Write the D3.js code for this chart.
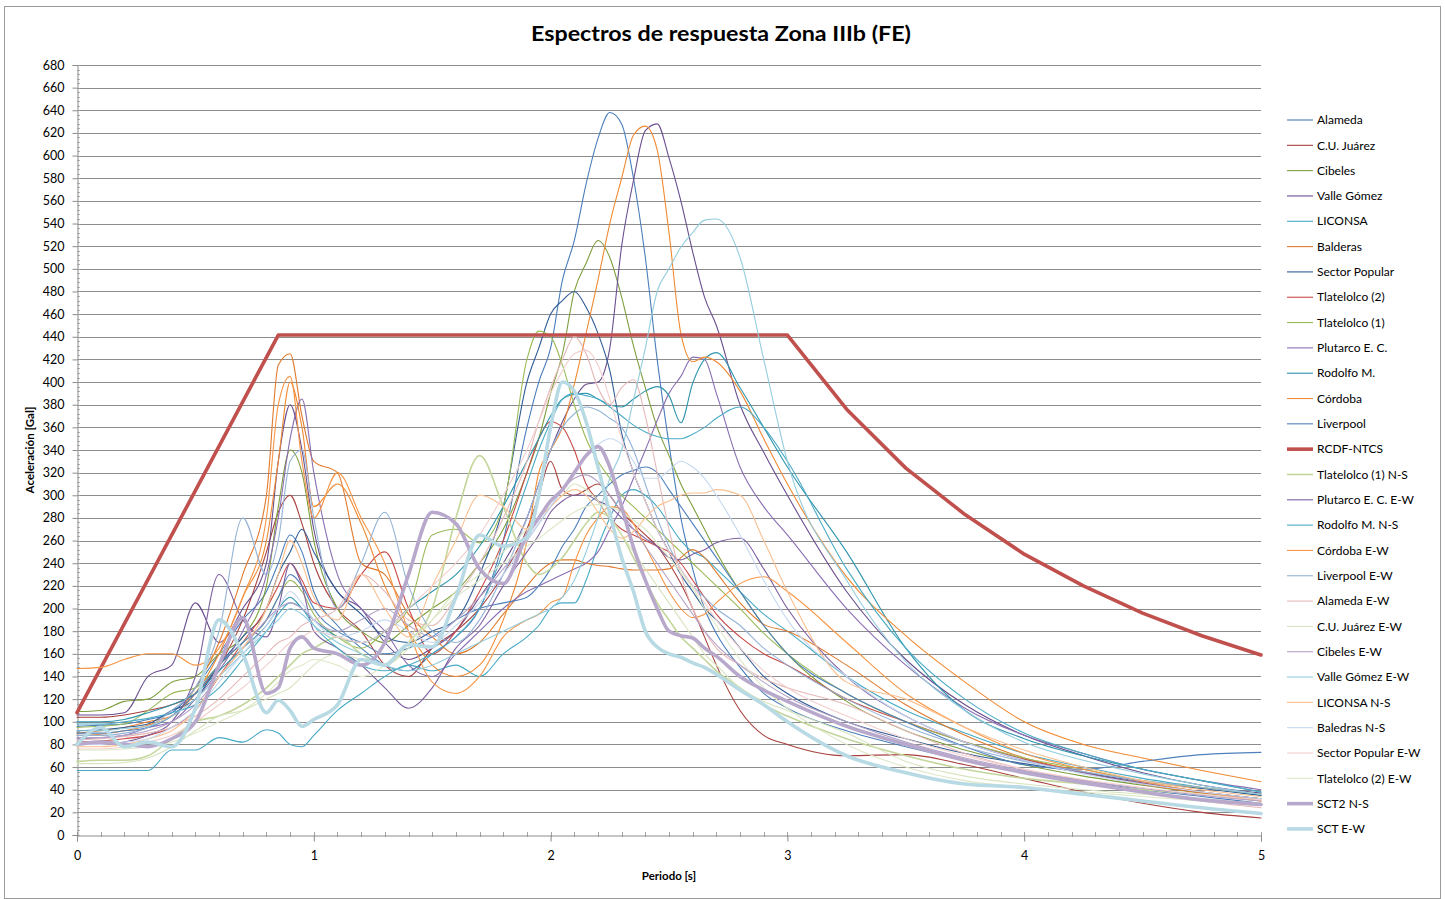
<!DOCTYPE html>
<html><head><meta charset="utf-8">
<script src="https://cdn.jsdelivr.net/npm/d3@7"></script>
<style>body{margin:0;background:#fff}svg{display:block}</style>
</head><body>
<svg id="c" width="1445" height="899"></svg>
<script>
// ---------- DATA ----------
const periods = [0,0.1,0.2,0.3,0.4,0.5,0.6,0.7,0.8,0.85,0.9,0.95,1.0,1.1,1.2,1.3,1.4,1.5,1.6,1.7,1.8,1.9,1.95,2.0,2.05,2.1,2.15,2.2,2.25,2.3,2.35,2.4,2.45,2.5,2.55,2.6,2.65,2.7,2.8,2.9,3.0,3.25,3.5,3.75,4.0,4.25,4.5,4.75,5.0];

const alameda = [96,97,98,102,108,130,160,190,215,240,265,250,215,185,165,150,145,160,175,200,260,360,400,430,490,525,575,615,638,628,580,510,420,345,280,235,200,178,148,125,112,92,78,66,56,48,40,34,28];
const cuJuarez = [104,104,106,110,115,125,150,190,250,285,300,275,240,200,180,150,140,165,180,200,230,270,300,330,305,300,305,310,300,285,275,265,255,240,222,200,175,150,110,88,80,70,71,62,50,38,28,20,15];
const cibeles = [109,110,118,120,135,140,160,175,220,290,340,320,260,200,180,170,185,200,215,240,270,320,350,390,425,480,505,525,510,475,432,395,360,335,310,290,270,250,215,185,160,118,92,75,62,52,44,37,32];
const valleGomez = [106,106,108,140,150,205,170,200,240,330,380,340,270,215,200,170,155,165,180,210,240,280,310,340,365,385,398,400,430,520,578,622,628,598,560,515,475,450,380,338,300,215,155,115,88,70,55,44,37];
const liconsa = [57,57,57,57,75,75,86,82,93,90,80,78,88,110,125,140,150,145,150,140,160,175,185,200,205,205,225,255,280,300,305,300,290,275,260,250,245,235,215,195,180,140,110,90,72,60,50,42,35];
const balderas = [90,92,95,100,105,130,170,230,300,415,425,370,330,320,240,230,195,175,160,170,195,220,232,240,243,243,240,238,237,235,234,234,234,235,245,252,245,232,205,186,180,150,115,88,68,56,45,37,30];
const sectorPopular = [92,93,95,98,110,120,150,175,200,230,250,270,250,215,195,175,170,180,190,230,290,400,430,460,472,480,466,443,410,355,320,295,270,250,230,215,200,190,165,140,125,100,85,72,63,55,47,41,35];
const tlatelolco2 = [82,83,85,88,95,110,140,170,200,220,240,225,205,200,230,250,200,160,180,215,260,320,350,365,360,340,310,295,280,270,265,260,255,250,240,225,210,195,175,160,150,120,100,82,67,55,45,38,32];
const tlatelolco1 = [95,96,98,110,125,130,150,170,190,210,225,215,195,175,165,180,200,265,270,258,290,420,445,440,415,380,350,330,315,300,290,280,270,260,250,240,230,220,200,178,160,125,100,82,68,58,48,42,36];
const plutarco = [85,86,88,95,100,120,145,180,230,280,350,385,320,230,200,180,150,140,160,180,200,215,220,225,230,235,240,250,270,290,315,340,366,390,405,422,420,390,325,290,265,200,150,112,88,72,58,48,40];
const rodolfo = [100,100,102,108,115,125,145,165,185,200,210,200,190,175,170,180,200,215,230,255,290,330,350,370,385,389,390,385,380,378,385,392,396,388,364,399,420,426,395,360,325,250,165,110,85,70,58,48,38];
const cordoba = [88,89,92,97,105,125,160,210,260,330,400,360,290,310,275,220,180,150,140,150,190,260,320,340,360,398,443,490,540,580,618,626,605,532,443,418,422,418,392,350,310,228,176,135,100,80,68,57,47];
const liverpool = [90,90,92,95,105,125,150,170,190,210,230,220,200,180,170,160,165,175,190,200,205,210,220,235,255,270,290,300,310,318,322,325,320,305,290,275,260,245,215,185,160,125,100,78,62,58,65,71,73];
const tlatelolco1NS = [65,66,66,70,85,100,105,115,130,140,150,160,165,175,160,150,170,200,280,335,290,240,230,235,245,260,275,285,280,265,245,225,205,190,175,165,155,145,130,115,105,85,70,58,50,45,40,36,32];
const plutarcoEW = [80,80,82,88,100,140,230,190,175,200,240,220,180,165,150,130,112,130,165,185,220,250,265,285,295,300,300,295,290,280,270,262,255,245,243,248,252,258,262,235,200,140,105,82,66,55,46,38,32];
const rodolfoNS = [98,98,100,103,108,115,130,155,180,195,205,200,185,165,150,145,150,160,175,200,250,310,340,365,385,390,388,385,378,370,362,356,352,350,350,354,360,368,378,360,330,235,165,120,90,72,58,48,38];
const cordobaEW = [147,148,155,160,160,150,165,210,280,380,405,330,280,320,280,240,180,135,125,140,175,190,195,205,210,240,265,280,290,288,275,255,235,215,200,192,195,205,222,228,215,170,125,95,72,58,47,38,30];
const liverpoolEW = [88,88,90,95,110,130,180,280,230,260,330,340,280,200,240,285,220,180,170,190,230,280,310,340,360,372,378,375,368,360,340,310,280,255,235,220,210,200,185,165,150,120,96,78,65,56,48,42,36];
const alamedaEW = [84,85,87,90,95,105,120,140,160,170,175,185,190,200,230,215,190,185,210,240,280,330,365,395,420,440,425,395,380,395,402,370,320,270,230,200,180,165,150,138,130,115,92,72,58,48,38,30,24];
const cuJuarezEW = [63,63,64,68,78,92,105,110,120,125,130,140,150,160,155,150,165,190,215,230,250,270,280,290,300,310,305,295,280,265,250,235,220,205,190,175,160,150,130,118,110,90,65,52,45,40,36,32,28];
const cibelesEW = [86,86,88,92,100,115,140,165,190,200,205,200,190,180,190,200,185,175,190,210,235,260,275,290,305,315,318,312,300,285,270,255,240,225,210,195,180,168,150,135,122,100,82,68,57,48,41,35,30];
const valleGomezEW = [92,92,94,96,105,120,140,160,180,190,200,195,185,170,160,150,145,150,160,170,180,190,195,200,210,225,250,280,315,340,384,430,480,500,519,532,543,544,510,420,330,225,153,110,82,66,54,44,36];
const liconsaNS = [78,78,80,85,92,110,140,165,200,230,260,240,210,190,230,200,175,220,260,300,290,270,280,290,300,305,300,285,270,262,268,280,290,295,300,302,302,305,300,260,215,135,120,95,75,60,48,40,34];
const baledrasNS = [80,80,82,85,95,110,135,160,185,200,215,205,190,175,180,190,180,170,185,205,230,260,275,290,305,320,335,345,350,345,330,315,315,322,330,325,315,300,265,225,190,140,105,82,66,54,45,38,32];
const sectorPopularEW = [76,76,78,82,88,100,115,130,150,160,170,175,180,175,170,180,200,220,240,265,300,340,365,390,410,425,428,415,385,350,320,295,270,250,235,220,205,190,165,145,130,105,85,70,58,49,42,36,31];
const tlatelolco2EW = [75,75,76,78,82,90,100,110,125,135,145,150,155,150,140,150,170,190,210,225,240,255,262,270,278,285,290,292,290,285,278,270,258,245,232,218,200,185,155,130,112,80,60,48,42,38,34,30,26];
const sct2NS = [80,82,80,78,85,100,150,192,125,130,165,175,165,160,150,170,230,285,275,235,222,265,280,295,305,320,335,343,325,290,254,225,200,180,176,174,165,158,140,128,118,96,80,66,55,46,38,31,27];
const sctEW = [80,95,78,82,78,112,190,160,108,119,110,96,102,115,155,150,168,166,210,265,255,263,300,360,400,392,365,325,284,245,215,180,166,160,157,152,148,142,128,115,100,70,55,45,42,36,30,24,19];

const rcdfPeriods = [0,0.85,3.0,3.25,3.5,3.75,4.0,4.25,4.5,4.75,5.0];
const rcdfValues = [108,441.5,441.5,376,324,283,248,220,196,176,159];

const seriesNames = ["Alameda","C.U. Juárez","Cibeles","Valle Gómez","LICONSA","Balderas","Sector Popular","Tlatelolco (2)","Tlatelolco (1)","Plutarco E. C.","Rodolfo M.","Córdoba","Liverpool","RCDF-NTCS","Tlatelolco (1) N-S","Plutarco E. C. E-W","Rodolfo M. N-S","Córdoba E-W","Liverpool E-W","Alameda E-W","C.U. Juárez E-W","Cibeles E-W","Valle Gómez E-W","LICONSA N-S","Baledras N-S","Sector Popular E-W","Tlatelolco (2) E-W","SCT2 N-S","SCT E-W"];
const seriesValues = [alameda,cuJuarez,cibeles,valleGomez,liconsa,balderas,sectorPopular,tlatelolco2,tlatelolco1,plutarco,rodolfo,cordoba,liverpool,null,tlatelolco1NS,plutarcoEW,rodolfoNS,cordobaEW,liverpoolEW,alamedaEW,cuJuarezEW,cibelesEW,valleGomezEW,liconsaNS,baledrasNS,sectorPopularEW,tlatelolco2EW,sct2NS,sctEW];

const yTicks = d3.range(0, 681, 20);
const xTicks = [0,1,2,3,4,5];

// ---------- STYLE ----------
const seriesColors = ["#4A7EBB","#A8403D","#7F9F3F","#6A4E8E","#46AAC5","#E07A2E","#2F5C96","#C84A47","#9BBB59","#8A6FB3","#2F95AD","#F08A33","#4F81BD","#C0504D","#C3D69B","#7D60A0","#4BACC6","#F79646","#95B3D7","#E6B9B8","#D7E4BD","#B3A2C7","#93CDDD","#FAC090","#C6D9F1","#F2CFCE","#DDE8C6","#B8A9CC","#B7DAE4"];
const seriesWidths = seriesNames.map((n,i)=> i===13 ? 3.6 : (i>=27 ? 3.6 : (i===14 ? 1.6 : 1.1)));

const svg = d3.select("#c");
const x = d3.scaleLinear().domain([0,5]).range([77,1261]);
const y = d3.scaleLinear().domain([0,680]).range([835,65]);

// frame
svg.append("rect").attr("x",4.5).attr("y",6.5).attr("width",1436).attr("height",892)
  .attr("fill","#fff").attr("stroke","#9a9a9a").attr("stroke-width",1);

// title
svg.append("text").attr("x",721).attr("y",41).attr("text-anchor","middle")
  .attr("font-family","Lato, 'Open Sans', sans-serif").attr("font-weight","bold").attr("font-size",21)
  .attr("textLength",380).attr("lengthAdjust","spacingAndGlyphs")
  .text("Espectros de respuesta Zona IIIb (FE)");

// gridlines
svg.append("g").selectAll("line").data(yTicks.filter(d=>d>0)).join("line")
  .attr("x1",77).attr("x2",1261).attr("y1",d=>Math.round(y(d))+0.5).attr("y2",d=>Math.round(y(d))+0.5)
  .attr("stroke","#8c8c8c").attr("stroke-width",1);

// y axis
const yAxis = d3.axisLeft(y).tickValues(yTicks).tickSize(5).tickPadding(8);
const gy = svg.append("g").attr("transform","translate(77.5,0)").call(yAxis);
gy.select(".domain").attr("stroke","#8c8c8c");
gy.selectAll(".tick line").attr("stroke","#8c8c8c");
gy.selectAll("text").attr("font-family","Lato, sans-serif").attr("font-size",12.5).attr("fill","#000");
svg.append("g").selectAll("line").data(d3.range(0,681,4)).join("line")
  .attr("x1",77).attr("x2",80).attr("y1",d=>Math.round(y(d))+0.5).attr("y2",d=>Math.round(y(d))+0.5)
  .attr("stroke","#9a9a9a").attr("stroke-width",0.8);

// x axis
const xAxis = d3.axisBottom(x).tickValues(xTicks).tickSize(6).tickPadding(10).tickFormat(d3.format("d"));
const gx = svg.append("g").attr("transform","translate(0,835.5)").call(xAxis);
gx.select(".domain").attr("stroke","#8c8c8c");
gx.selectAll(".tick line").attr("stroke","#8c8c8c");
gx.selectAll("text").attr("font-family","Lato, sans-serif").attr("font-size",12.5).attr("fill","#000");
svg.append("g").selectAll("line").data(d3.range(0,51).map(d=>d/10)).join("line")
  .attr("x1",d=>Math.round(x(d))+0.5).attr("x2",d=>Math.round(x(d))+0.5).attr("y1",832).attr("y2",837)
  .attr("stroke","#8c8c8c").attr("stroke-width",0.8);

// axis titles
svg.append("text").attr("transform","translate(34,450) rotate(-90)").attr("text-anchor","middle")
  .attr("font-family","Lato, sans-serif").attr("font-weight","bold").attr("font-size",11.5).text("Aceleración [Gal]");
svg.append("text").attr("x",669).attr("y",880).attr("text-anchor","middle")
  .attr("font-family","Lato, sans-serif").attr("font-weight","bold").attr("font-size",11.5).text("Periodo [s]");

// series
const line = d3.line().x(d=>x(d[0])).y(d=>y(d[1])).curve(d3.curveMonotoneX);
const rline = d3.line().x(d=>x(d[0])).y(d=>y(d[1]));
const plot = svg.append("g");
seriesNames.forEach((name,i)=>{
  const path = (i===13)
    ? rline(rcdfPeriods.map((p,k)=>[p,rcdfValues[k]]))
    : line(periods.map((p,k)=>[p,seriesValues[i][k]]));
  plot.append("path").attr("d",path).attr("fill","none")
    .attr("stroke",seriesColors[i]).attr("stroke-width",seriesWidths[i])
    .attr("stroke-linejoin","round").attr("stroke-linecap","round");
});

// legend
const lg = svg.append("g");
seriesNames.forEach((name,i)=>{
  const ly = 120 + i*25.32;
  lg.append("line").attr("x1",1287).attr("x2",1313).attr("y1",ly).attr("y2",ly)
    .attr("stroke",seriesColors[i]).attr("stroke-width",seriesWidths[i]);
  lg.append("text").attr("x",1317).attr("y",ly).attr("dy","0.35em")
    .attr("font-family","Lato, sans-serif").attr("font-size",12).text(name);
});
</script>
</body></html>
